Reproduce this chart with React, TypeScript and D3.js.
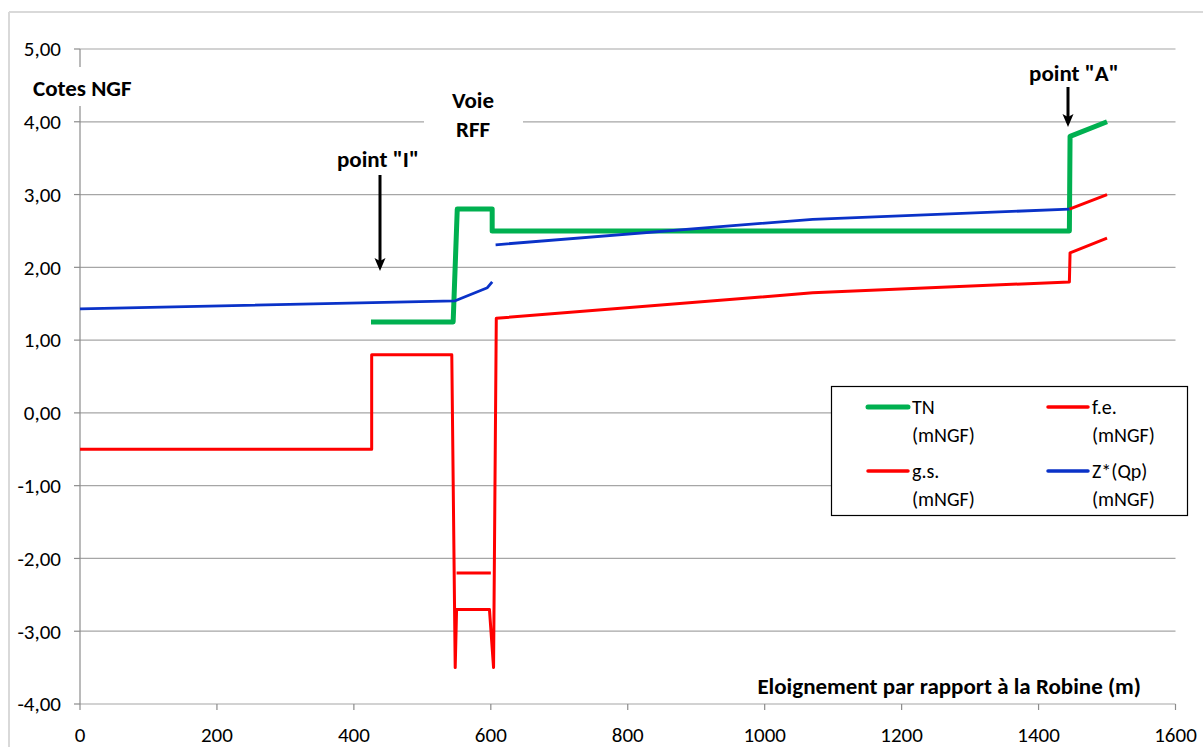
import React from "react";
import * as d3 from "d3";

const W = 1203;
const H = 747;

// Data (x: distance in m, y: cote NGF)
const tnX = [425, 545, 551, 602, 602, 1445, 1446, 1500];
const tnY = [1.25, 1.25, 2.8, 2.8, 2.5, 2.5, 3.8, 4.0];

const feX = [550, 600, 602, 1445, 1500];
const feY: (number | null)[] = [-2.2, -2.2, null, 2.8, 3.0];

const gsX = [0, 426, 426, 543, 548, 550, 598, 604, 608, 1070, 1445, 1446, 1500];
const gsY = [-0.5, -0.5, 0.8, 0.8, -3.5, -2.7, -2.7, -3.5, 1.3, 1.65, 1.8, 2.2, 2.4];

const zX = [0, 548, 595, 602, 604, 607, 1070, 1445];
const zY: (number | null)[] = [1.43, 1.54, 1.72, 1.80, null, 2.31, 2.66, 2.8];

const yTicks = [5, 4, 3, 2, 1, 0, -1, -2, -3, -4];
const xTicks = [0, 200, 400, 600, 800, 1000, 1200, 1400, 1600];

const legendItems = [
  { name: "TN", unit: "(mNGF)", color: "#00B050", w: 5 },
  { name: "f.e.", unit: "(mNGF)", color: "#FF0000", w: 3.5 },
  { name: "g.s.", unit: "(mNGF)", color: "#FF0000", w: 3.5 },
  { name: "Z*(Qp)", unit: "(mNGF)", color: "#0A32C8", w: 3.5 },
];

const FONT = "Carlito, 'Liberation Sans Narrow', 'Open Sans', sans-serif";

export default function App() {
  const x = d3.scaleLinear().domain([0, 1600]).range([80, 1175.5]);
  const y = d3.scaleLinear().domain([-4, 5]).range([704, 49]);

  const mk = (xs: number[], ys: (number | null)[]) =>
    xs.map((v, i) => [v, ys[i]] as [number, number | null]);

  const line = d3
    .line<[number, number | null]>()
    .defined((d) => d[1] !== null)
    .x((d) => x(d[0]))
    .y((d) => y(d[1] as number));

  const series = [
    { d: line(mk(tnX, tnY)), color: "#00B050", w: 5 },
    { d: line(mk(feX, feY)), color: "#FF0000", w: 3 },
    { d: line(mk(gsX, gsY)), color: "#FF0000", w: 3 },
    { d: line(mk(zX, zY)), color: "#0A32C8", w: 2.8 },
  ];

  const fmt = (v: number) => v.toFixed(2).replace(".", ",");

  return (
    <div style={{ position: "absolute", left: 0, top: 0 }}>
      <svg width={W} height={H} style={{ display: "block", fontFamily: FONT }}>
        <rect x={0} y={0} width={W} height={H} fill="#fff" />
        {/* outer frame */}
        <line x1={9} y1={12} x2={W} y2={12} stroke="#D9D9D9" strokeWidth={2} />
        <line x1={9} y1={12} x2={9} y2={H} stroke="#D9D9D9" strokeWidth={2} />

        {/* gridlines */}
        {yTicks.map((t) => (
          <line key={"g" + t} x1={x(0)} x2={x(1600)} y1={y(t)} y2={y(t)} stroke="#A6A6A6" strokeWidth={1.2} />
        ))}
        {/* y axis */}
        <line x1={x(0)} x2={x(0)} y1={y(5)} y2={y(-4)} stroke="#8C8C8C" strokeWidth={1.2} />
        {yTicks.map((t) => (
          <g key={"yt" + t}>
            <line x1={x(0) - 6} x2={x(0)} y1={y(t)} y2={y(t)} stroke="#8C8C8C" strokeWidth={1.2} />
            <text x={61} y={y(t)} dy="0.35em" textAnchor="end" fontSize={21} fill="#000">
              {fmt(t)}
            </text>
          </g>
        ))}
        {xTicks.map((t) => (
          <g key={"xt" + t}>
            <line x1={x(t)} x2={x(t)} y1={y(-4)} y2={y(-4) + 6} stroke="#8C8C8C" strokeWidth={1.2} />
            <text x={x(t)} y={735} dy="0.35em" textAnchor="middle" fontSize={21} fill="#000">
              {t}
            </text>
          </g>
        ))}

        {/* white background behind Voie RFF */}
        <rect x={424} y={84} width={99} height={58} fill="#fff" />
        {/* white background behind Cotes NGF over axis */}
        <rect x={30} y={67} width={108} height={39} fill="#fff" />

        {/* series */}
        {series.map((s, i) => (
          <path key={i} d={s.d || ""} fill="none" stroke={s.color} strokeWidth={s.w} strokeLinejoin="round" strokeLinecap="butt" />
        ))}

        {/* annotations */}
        <text x={33} y={88} dy="0.35em" fontSize={23} fontWeight="bold" fill="#000">Cotes NGF</text>
        <text x={473} y={100} dy="0.35em" textAnchor="middle" fontSize={23} fontWeight="bold" fill="#000">Voie</text>
        <text x={473} y={129} dy="0.35em" textAnchor="middle" fontSize={23} fontWeight="bold" fill="#000">RFF</text>
        <text x={378} y={159} dy="0.35em" textAnchor="middle" fontSize={23} fontWeight="bold" fill="#000">point "I"</text>
        <text x={1074} y={73} dy="0.35em" textAnchor="middle" fontSize={23} fontWeight="bold" fill="#000">point "A"</text>
        <text x={1141} y={686} dy="0.35em" textAnchor="end" fontSize={23} fontWeight="bold" fill="#000">Eloignement par rapport à la Robine (m)</text>

        {/* arrows */}
        <line x1={380} x2={380} y1={175} y2={262} stroke="#000" strokeWidth={3} />
        <path d="M374.5,258 L380,271 L385.5,258 L380,261 Z" fill="#000" />
        <line x1={1068} x2={1068} y1={87} y2={118} stroke="#000" strokeWidth={3} />
        <path d="M1062.5,114 L1068,127 L1073.5,114 L1068,117 Z" fill="#000" />

        {/* legend */}
        <rect x={831.5} y={386.5} width={356} height={129} fill="#fff" stroke="#000" strokeWidth={1.2} />
        {legendItems.map((it, i) => {
          const col = i % 2;
          const row = Math.floor(i / 2);
          const lx = col === 0 ? 868 : 1048;
          const ly = row === 0 ? 407 : 471;
          return (
            <g key={it.name}>
              <line x1={lx} x2={lx + 40} y1={ly} y2={ly} stroke={it.color} strokeWidth={it.w} strokeLinecap="round" />
              <text x={lx + 44} y={ly} dy="0.35em" fontSize={20} fill="#000">{it.name}</text>
              <text x={lx + 44} y={ly + 28} dy="0.35em" fontSize={20} fill="#000">{it.unit}</text>
            </g>
          );
        })}
      </svg>
    </div>
  );
}
